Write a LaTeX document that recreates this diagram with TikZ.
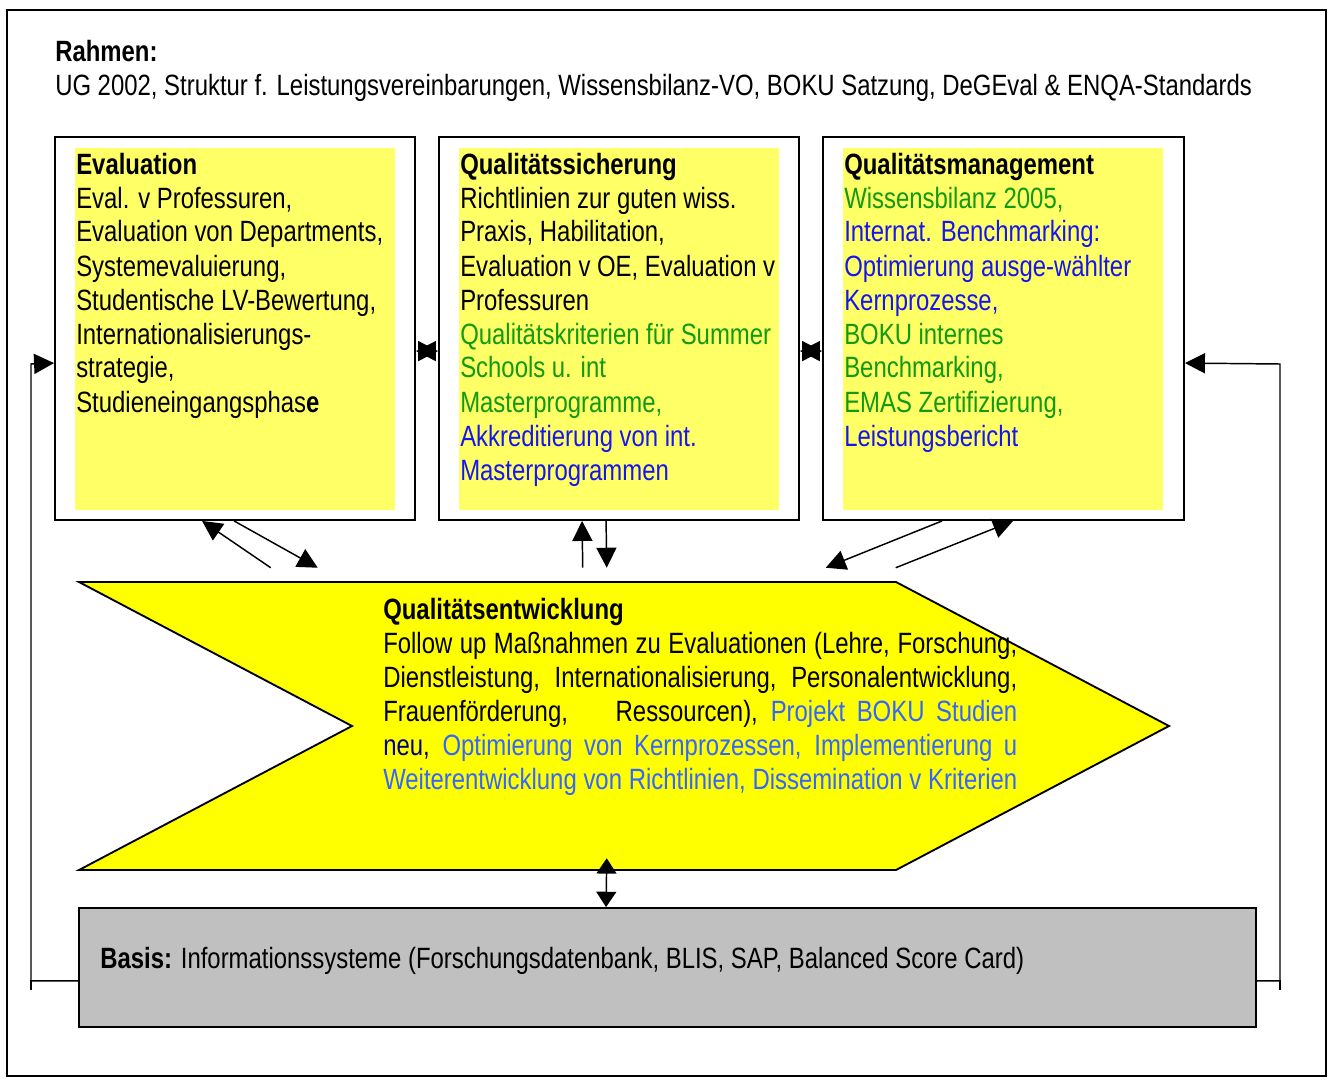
\documentclass[tikz,border=0pt]{standalone}
\usepackage{fontspec}
\setmainfont[FakeStretch=0.815]{Liberation Sans}
\usetikzlibrary{arrows.meta,calc,fit}
\definecolor{lyel}{HTML}{FFFF66}
\definecolor{cyel}{HTML}{FFFF00}
\definecolor{gbox}{HTML}{C0C0C0}
\definecolor{tgreen}{HTML}{119911}
\definecolor{tblue}{HTML}{1515F0}
\definecolor{lblue}{HTML}{3366FF}
\definecolor{navy}{HTML}{000080}
\newcommand{\bodyfont}{\fontsize{22pt}{25.5pt}\selectfont}
\begin{document}
\begin{tikzpicture}[x=0.75pt,y=-0.75pt,
  box/.style={draw,line width=1.4pt,inner sep=0pt,fill=white},
  txt/.style={anchor=base west,inner sep=0pt,font=\bodyfont},
  arr/.style={line width=1.1pt,-{Triangle[length=15pt,width=15pt]}},
  darr/.style={line width=1.1pt,{Triangle[length=15pt,width=15pt]}-{Triangle[length=15pt,width=15pt]}},
  sdarr/.style={line width=1.1pt,{Triangle[length=11.5pt,width=15pt]}-{Triangle[length=11.5pt,width=15pt]}},
  plain/.style={line width=1.1pt}]
\useasboundingbox (0,0) rectangle (1328,1081);
\draw[line width=1.1pt] (7,10) rectangle (1326,1076);
% frame text
\node[txt] (rahmen) at (55,62) {\textbf{Rahmen:}};
\node[txt] (rahmen2) at (55,96) {UG 2002, Struktur f. Leistungsvereinbarungen, Wissensbilanz-VO, BOKU Satzung, DeGEval \& ENQA-Standards};
% boxes
\node[box,fit={(55,137)(415,520)}] (b1) {};
\node[box,fit={(439,137)(799,520)}] (b2) {};
\node[box,fit={(823,137)(1184,520)}] (b3) {};
\fill[lyel] (75,148) rectangle (395,510);
\fill[lyel] (459,148) rectangle (779,510);
\fill[lyel] (843,148) rectangle (1163,510);
\node[txt] (t1) at (76,174) {\parbox[t]{318pt}{\bodyfont\textbf{Evaluation}\\
Eval. v Professuren,\\
Evaluation von Departments,\\
Systemevaluierung,\\
Studentische LV-Bewertung,\\
Internationalisierungs-\\
strategie,\\
Studieneingangsphas\textbf{e}}};
\node[txt] (t2) at (460,174) {\parbox[t]{318pt}{\bodyfont\textbf{Qualitätssicherung}\\
Richtlinien zur guten wiss.\\
Praxis, Habilitation,\\
Evaluation v OE, Evaluation v\\
Professuren\\
\textcolor{tgreen}{Qualitätskriterien für Summer}\\
\textcolor{tgreen}{Schools u. int}\\
\textcolor{tgreen}{Masterprogramme,}\\
\textcolor{tblue}{Akkreditierung von int.}\\
\textcolor{tblue}{Masterprogrammen}}};
\node[txt] (t3) at (844,174) {\parbox[t]{318pt}{\bodyfont\textbf{Qualitätsmanagement}\\
\textcolor{tgreen}{Wissensbilanz 2005,}\\
\textcolor{tblue}{Internat. Benchmarking:}\\
\textcolor{tblue}{Optimierung ausge-wählter}\\
\textcolor{tblue}{Kernprozesse,}\\
\textcolor{tgreen}{BOKU internes}\\
\textcolor{tgreen}{Benchmarking,}\\
\textcolor{tgreen}{EMAS Zertifizierung,}\\
\textcolor{tblue}{Leistungsbericht}}};
% chevron
\coordinate (c1) at (79,582);
\coordinate (c2) at (896,582);
\coordinate (c3) at (1169,726);
\coordinate (c4) at (896,870);
\coordinate (c5) at (79,870);
\coordinate (c6) at (352,726);
\draw[line width=1.4pt,fill=cyel] (c1)--(c2)--(c3)--(c4)--(c5)--(c6)--cycle;
\node[fit=(c1)(c3)(c5),inner sep=0pt] (chev) {};
\node[txt] (t4) at (383,619) {\parbox[t]{480pt}{\bodyfont\textbf{Qualitätsentwicklung}\\
\makebox[475.5pt][s]{Follow up Maßnahmen zu Evaluationen (Lehre, Forschung,}\\
\makebox[475.5pt][s]{Dienstleistung, Internationalisierung, Personalentwicklung,}\\
\makebox[475.5pt][s]{Frauenförderung, \ \ \ Ressourcen), \textcolor{lblue}{Projekt BOKU Studien}}\\
\makebox[475.5pt][s]{\textcolor{navy}{neu}, \textcolor{lblue}{Optimierung von Kernprozessen, Implementierung u}}\\
\makebox[475.5pt][s]{\textcolor{lblue}{Weiterentwicklung von Richtlinien, Dissemination v Kriterien}}}};
% basis
\node[box,fill=gbox,fit={(79,908)(1256,1027)}] (basis) {};
\node[txt] (t5) at (100,968) {\textbf{Basis:} Informationssysteme (Forschungsdatenbank, BLIS, SAP, Balanced Score Card)};
% arrows between boxes
\draw[darr] ($(b1.north east)+(0,215)$) -- ($(b2.north west)+(0,215)$);
\draw[darr] ($(b2.north east)+(0,215)$) -- ($(b3.north west)+(0,215)$);
% arrows boxes <-> chevron
\draw[arr] ($(chev.north west)+(192,-14)$) -- ($(b1.south west)+(148,0)$);
\draw[arr] ($(b1.south west)+(180,0)$) -- ($(chev.north west)+(239,-14)$);
\draw[arr] ($(chev.north west)+(504,-14)$) -- ($(b2.south west)+(144,0)$);
\draw[arr] ($(b2.south west)+(168,0)$) -- ($(chev.north west)+(528,-14)$);
\draw[arr] ($(b3.south west)+(120,0)$) -- ($(chev.north west)+(747,-14)$);
\draw[arr] ($(chev.north west)+(817,-14)$) -- ($(b3.south west)+(191,0)$);
% chevron <-> basis
\draw[sdarr] ($(chev.south west)+(528,-12)$) -- ($(basis.north west)+(528,0)$);
% side feedback loops
\draw[arr] ($(basis.south west)+(0,-47)$) -| (31,364) -- ($(b1.north west)+(0,227)$);
\draw[plain] (31,980) -- (31,990);
\draw[arr] ($(basis.south east)+(0,-47)$) -| (1280,364) -- ($(b3.north east)+(0,227)$);
\draw[plain] (1280,980) -- (1280,990);
\end{tikzpicture}
\end{document}
